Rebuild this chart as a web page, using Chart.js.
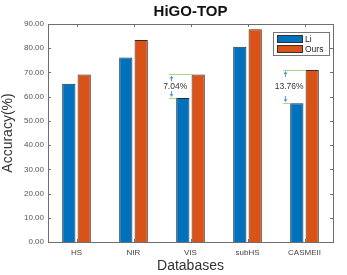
<!DOCTYPE html>
<html><head><meta charset="utf-8">
<script src="https://cdn.jsdelivr.net/npm/chart.js@4/dist/chart.umd.min.js"></script>
<style>html,body{margin:0;padding:0;background:#fff}#wrap{width:347px;height:275px}</style>
</head><body><div id="wrap"><canvas id="c" width="347" height="275"></canvas></div>
<script>
const categories = ['HS', 'NIR', 'VIS', 'subHS', 'CASMEII'];
const liValues = [65.3, 76.2, 59.4, 80.6, 57.3];
const oursValues = [69.1, 83.4, 69.2, 87.8, 71.06];
const seriesNames = ['Li', 'Ours'];
const yTicks = [0, 10, 20, 30, 40, 50, 60, 70, 80, 90];
const annotCategories = ['VIS', 'CASMEII'];
const annotLabels = ['7.04%', '13.76%'];

const FONT = '"Liberation Sans", Arial, sans-serif';
const AX = '#6e6e6e';

const decor = {
  id: 'decor',
  afterDraw(chart) {
    const ctx = chart.ctx, a = chart.chartArea, y = chart.scales.y, x = chart.scales.x;
    ctx.save();
    ctx.strokeStyle = AX; ctx.lineWidth = 1;
    ctx.strokeRect(Math.round(a.left) + 0.5, Math.round(a.top) + 0.5, Math.round(a.right - a.left), Math.round(a.bottom - a.top));
    yTicks.forEach(v => {
      const py = Math.round(y.getPixelForValue(v)) + 0.5;
      ctx.beginPath();
      ctx.moveTo(a.left, py); ctx.lineTo(a.left + 3, py);
      ctx.moveTo(a.right, py); ctx.lineTo(a.right - 3, py);
      ctx.stroke();
    });
    categories.forEach((c, i) => {
      const px = Math.round(x.getPixelForValue(i)) + 0.5;
      ctx.beginPath();
      ctx.moveTo(px, a.bottom); ctx.lineTo(px, a.bottom - 3);
      ctx.moveTo(px, a.top); ctx.lineTo(px, a.top + 3);
      ctx.stroke();
    });
    ctx.fillStyle = '#111';
    ctx.font = 'bold 15px ' + FONT;
    ctx.textAlign = 'center'; ctx.textBaseline = 'middle';
    ctx.fillText('HiGO-TOP', (a.left + a.right) / 2, 12);
    const lx = 273, ly = 32, lw = 56, lh = 23;
    ctx.fillStyle = '#fff'; ctx.fillRect(lx, ly, lw, lh);
    ctx.strokeStyle = '#777'; ctx.strokeRect(lx + 0.5, ly + 0.5, lw, lh);
    ctx.font = '8.5px ' + FONT; ctx.textAlign = 'left';
    chart.data.datasets.forEach((ds, i) => {
      const sy = ly + 3 + i * 10;
      ctx.fillStyle = ds.backgroundColor; ctx.fillRect(lx + 4, sy, 26, 8);
      ctx.strokeStyle = '#333'; ctx.strokeRect(lx + 4.5, sy + 0.5, 25, 7);
      ctx.fillStyle = '#222'; ctx.fillText(ds.label, lx + 32, sy + 4.5);
    });
    annotCategories.forEach((cat, k) => {
      const i = categories.indexOf(cat);
      const b0 = chart.getDatasetMeta(0).data[i], b1 = chart.getDatasetMeta(1).data[i];
      const yTop = y.getPixelForValue(oursValues[i]), yBot = y.getPixelForValue(liValues[i]);
      const ax = b0.x - b0.width / 2 - 5;
      ctx.strokeStyle = '#a6d88a'; ctx.lineWidth = 1;
      ctx.beginPath();
      ctx.moveTo(ax - 2, Math.round(yTop) + 0.5); ctx.lineTo(b1.x - b1.width / 2, Math.round(yTop) + 0.5);
      ctx.moveTo(ax - 2, Math.round(yBot) + 0.5); ctx.lineTo(b0.x - b0.width / 2, Math.round(yBot) + 0.5);
      ctx.stroke();
      ctx.strokeStyle = '#5b9bd5'; ctx.fillStyle = '#5b9bd5';
      const axp = Math.round(ax) + 0.5;
      ctx.beginPath();
      ctx.moveTo(axp, yTop + 2); ctx.lineTo(axp, yTop + 7);
      ctx.moveTo(axp, yBot - 2); ctx.lineTo(axp, yBot - 7);
      ctx.stroke();
      ctx.beginPath(); ctx.moveTo(axp, yTop + 1); ctx.lineTo(axp - 2, yTop + 4); ctx.lineTo(axp + 2, yTop + 4); ctx.closePath(); ctx.fill();
      ctx.beginPath(); ctx.moveTo(axp, yBot - 1); ctx.lineTo(axp - 2, yBot - 4); ctx.lineTo(axp + 2, yBot - 4); ctx.closePath(); ctx.fill();
      ctx.fillStyle = '#333'; ctx.font = '8.5px ' + FONT; ctx.textAlign = 'center';
      ctx.fillText(annotLabels[k], ax + 4, (yTop + yBot) / 2);
    });
    ctx.restore();
  }
};

new Chart(document.getElementById('c'), {
  type: 'bar',
  data: {
    labels: categories,
    datasets: [
      { label: seriesNames[0], data: liValues, backgroundColor: '#0072BD', borderColor: '#1f2f3f', borderWidth: 1 },
      { label: seriesNames[1], data: oursValues, backgroundColor: '#D95319', borderColor: '#3a2a20', borderWidth: 1 }
    ]
  },
  options: {
    responsive: false, animation: false, devicePixelRatio: 1,
    layout: { padding: { top: 24, right: 14, left: 0, bottom: 0 } },
    datasets: { bar: { categoryPercentage: 0.54, barPercentage: 0.86 } },
    plugins: { legend: { display: false }, title: { display: false }, tooltip: { enabled: false } },
    scales: {
      x: {
        grid: { display: false, drawTicks: false }, border: { display: false },
        ticks: { color: '#444', font: { family: FONT, size: 8 }, padding: 6 },
        title: { display: true, text: 'Databases', color: '#333', font: { family: FONT, size: 14 }, padding: { top: 3, bottom: 0 } },
        afterFit(s) { s.height = 33; }
      },
      y: {
        min: 0, max: 90,
        afterBuildTicks(s) { s.ticks = yTicks.map(v => ({ value: v })); },
        grid: { display: false, drawTicks: false }, border: { display: false },
        ticks: { color: '#555', font: { family: FONT, size: 8 }, padding: 4, callback: v => Number(v).toFixed(2) },
        title: { display: true, text: 'Accuracy(%)', color: '#333', font: { family: FONT, size: 14 }, padding: { top: 0, bottom: 2 } },
        afterFit(s) { s.width = 48; }
      }
    }
  },
  plugins: [decor]
});
</script></body></html>
